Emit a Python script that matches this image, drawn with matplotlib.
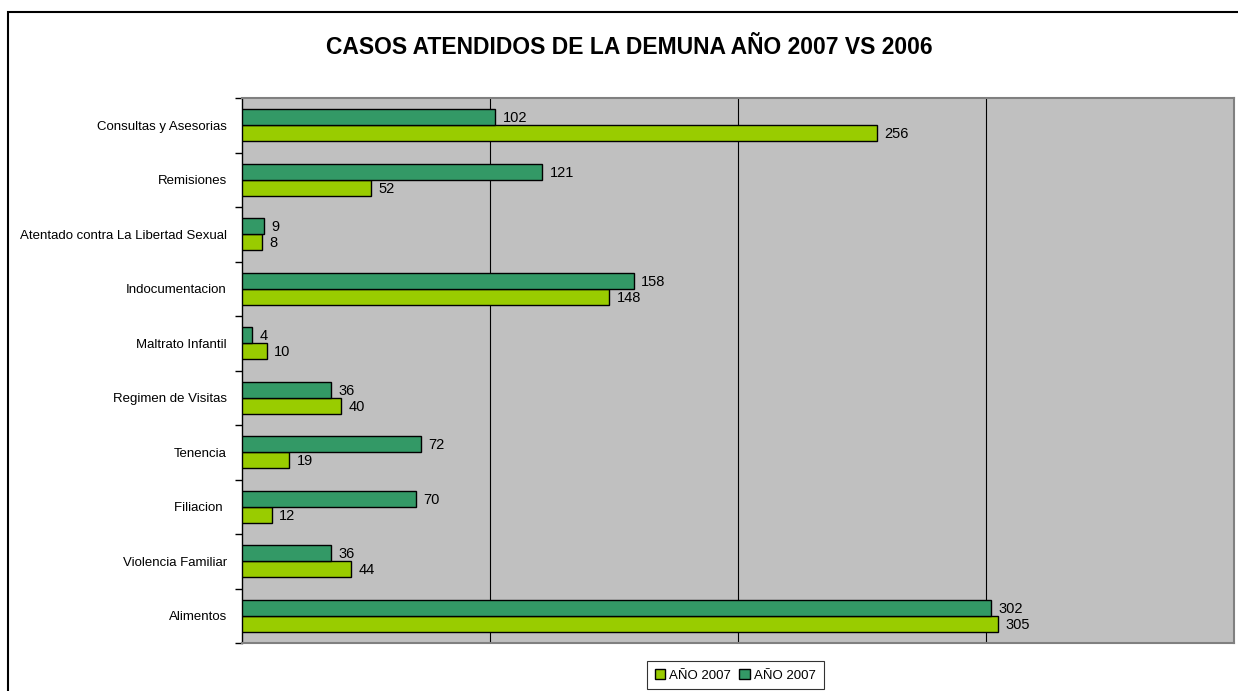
import matplotlib
matplotlib.use("Agg")
import matplotlib.pyplot as plt
import matplotlib.patches as mpatches
import numpy as np

plt.rcParams['font.family'] = ['Liberation Sans', 'DejaVu Sans']

# Datos (de abajo hacia arriba, como en el gráfico)
categorias = ["Alimentos", "Violencia Familiar", "Filiacion ", "Tenencia",
              "Regimen de Visitas", "Maltrato Infantil", "Indocumentacion",
              "Atentado contra La Libertad Sexual", "Remisiones",
              "Consultas y Asesorias"]
serie_clara = [305, 44, 12, 19, 40, 10, 148, 8, 52, 256]
serie_oscura = [302, 36, 70, 72, 36, 4, 158, 9, 121, 102]
etiquetas_leyenda = ["AÑO 2007", "AÑO 2007"]

verde_claro = "#99CC00"
verde_oscuro = "#339966"

fig = plt.figure(figsize=(12.38, 6.91), dpi=100)
ax = fig.add_axes([242 / 1238, 1 - 643 / 691, 992 / 1238, 545 / 691])

y = np.arange(len(categorias))
h = 0.29
b1 = ax.barh(y - h / 2, serie_clara, height=h, color=verde_claro,
             edgecolor='black', linewidth=1, label=etiquetas_leyenda[0], zorder=3)
b2 = ax.barh(y + h / 2, serie_oscura, height=h, color=verde_oscuro,
             edgecolor='black', linewidth=1, label=etiquetas_leyenda[1], zorder=3)

for barras in (b1, b2):
    for r in barras:
        ax.text(r.get_width() + 3, r.get_y() + r.get_height() / 2 - 0.02,
                str(int(r.get_width())), va='center', ha='left', fontsize=10.5)

ax.set_facecolor("#C0C0C0")
ax.set_xlim(0, 400)
ax.set_ylim(-0.5, len(categorias) - 0.5)
for gx in (100, 200, 300):
    ax.axvline(gx, color='black', linewidth=0.8, zorder=1)

ax.set_xticks([])
ax.set_yticks(y)
ax.set_yticklabels(categorias, fontsize=9.5)
ax.tick_params(axis='y', which='major', length=0, pad=11)
ax.set_yticks(np.arange(-0.5, len(categorias)), minor=True)
ax.tick_params(axis='y', which='minor', length=5, width=1, color='black')

for s in ('top', 'right', 'bottom'):
    ax.spines[s].set_color('#808080')
    ax.spines[s].set_linewidth(1.5)
ax.spines['left'].set_color('black')
ax.spines['left'].set_linewidth(1)

fig.text(629 / 1238, 1 - 47 / 691, "CASOS ATENDIDOS DE LA DEMUNA AÑO 2007 VS 2006",
         ha='center', va='center', fontsize=16.5, fontweight='bold')

# marco del gráfico
marco = mpatches.Rectangle((8 / 1238, -0.1), 1.2, 1 - 12 / 691 + 0.1,
                           transform=fig.transFigure, fill=False,
                           edgecolor='black', linewidth=1.5, clip_on=False)
fig.patches.append(marco)

leg = fig.legend(handles=[b1, b2], labels=etiquetas_leyenda, loc='upper left',
                 bbox_to_anchor=(647 / 1238, 1 - 661 / 691), ncol=2,
                 fontsize=9.5, frameon=True, fancybox=False, edgecolor='black',
                 handlelength=0.8, handleheight=0.8, handletextpad=0.3,
                 columnspacing=0.6, borderpad=0.6, borderaxespad=0)
leg.get_frame().set_linewidth(0.8)

fig.savefig("out.png", dpi=100)
